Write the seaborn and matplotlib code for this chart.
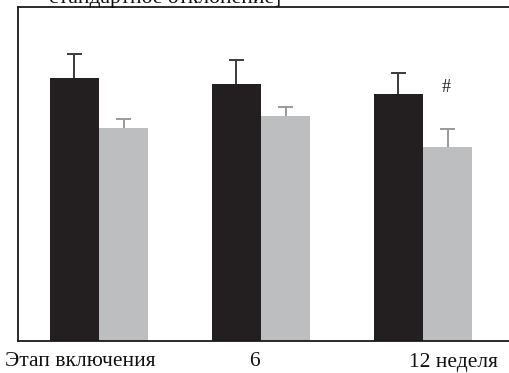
import matplotlib
matplotlib.use("Agg")
import matplotlib.pyplot as plt
import matplotlib.transforms as mtransforms
import numpy as np
import pandas as pd
import seaborn as sns

# Study stages and the two compared groups
stages = ["Этап включения", "6", "12 неделя"]
groups = ["Группа 1", "Группа 2"]
means_g1 = [263, 257, 247]
means_g2 = [213, 225, 194]
sd_g1 = [24, 24, 21]
sd_g2 = [9, 9, 18]
marks = ["", "", "#"]

colors = ["#231f20", "#bcbec0"]
err_colors = ["#3a3a3a", "#9a9a9a"]

df = pd.DataFrame({
    "stage": stages * 2,
    "group": [groups[0]] * 3 + [groups[1]] * 3,
    "value": means_g1 + means_g2,
})

sns.set_style("white")
plt.rcParams["font.family"] = ["Liberation Serif", "DejaVu Serif"]

fig = plt.figure(figsize=(5.10, 3.73), dpi=100)
ax = fig.add_axes([18 / 510, 32 / 373, 492 / 510, 334 / 373])

sns.barplot(data=df, x="stage", y="value", hue="group", order=stages,
            hue_order=groups, palette=colors, width=0.61, errorbar=None,
            saturation=1, legend=False, linewidth=0, ax=ax)

# One-sided (upper) standard deviation bars
bw = 0.61 / 2
cap = 0.045
x = np.arange(len(stages))
for i, (m, s) in enumerate([(means_g1, sd_g1), (means_g2, sd_g2)]):
    xs = x - bw / 2 + i * bw
    tops = np.array(m) + np.array(s)
    ax.vlines(xs, m, tops, colors=err_colors[i], linewidth=1.4, zorder=3)
    ax.hlines(tops, xs - cap, xs + cap, colors=err_colors[i], linewidth=1.4,
              zorder=3)

for xi, t in zip(x, marks):
    if t:
        ax.text(xi + 0.145, means_g1[2] - 2, t, ha="center", va="bottom",
                fontsize=13, color="#222222")

ax.set_ylim(0, 334)
ax.set_xlim(-0.5, 2.5 + 6 / 162)
ax.set_xlabel("")
ax.set_ylabel("")
ax.set_yticks([])
ax.set_xticks([-0.5, 0.5, 1.5, 2.5])
ax.set_xticklabels([])
ax.tick_params(axis="x", direction="out", length=8, width=1.2, color="#222222")

for side in ["left", "bottom", "top"]:
    ax.spines[side].set_visible(True)
    ax.spines[side].set_color("#1a1a1a")
    ax.spines[side].set_linewidth(1.3)
ax.spines["right"].set_visible(False)

trans = mtransforms.blended_transform_factory(ax.transData, fig.transFigure)
label_pos = [-0.117, 0.957, 2.19]
for lx, lab in zip(label_pos, stages):
    ax.text(lx, 11 / 373, lab, transform=trans, ha="center", va="center",
            fontsize=15.5, color="#111111")

fig.text(165 / 510, 1.005, "стандартное отклонение]", ha="center",
         va="center", fontsize=15.5, color="#111111")

fig.savefig("out.png", dpi=100)
